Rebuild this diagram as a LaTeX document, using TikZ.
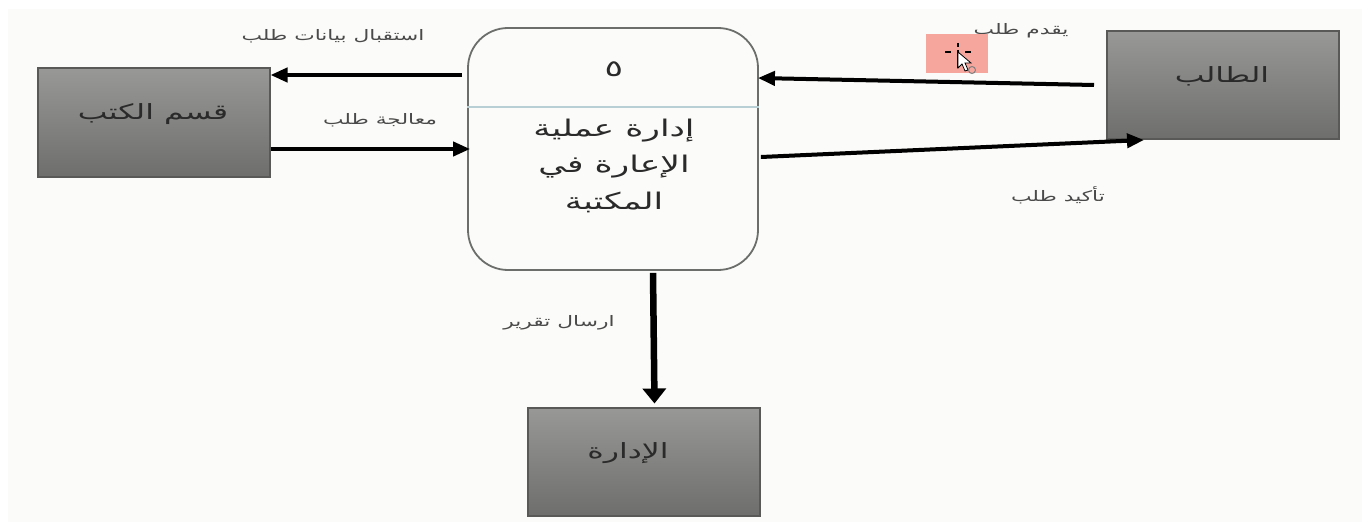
\documentclass[tikz,border=0pt]{standalone}
\usepackage{fontspec}
\setmainfont{Liberation Sans}
\newfontfamily\arabicfont[Script=Arabic,FakeStretch=1.5]{DejaVu Sans}
\TeXXeTstate=1
\usetikzlibrary{arrows.meta,calc}
\definecolor{paper}{HTML}{FBFCF9}
\definecolor{boxtop}{HTML}{989996}
\definecolor{boxbot}{HTML}{6E6F6C}
\definecolor{boxedge}{HTML}{595A57}
\definecolor{inkdark}{HTML}{2A2A2A}
\definecolor{inklight}{HTML}{4A4A4A}
\definecolor{divcol}{HTML}{B9CFD6}
\definecolor{procedge}{HTML}{6B6E6B}
\definecolor{pinkbox}{HTML}{F7A69E}
\newcommand{\artxt}[1]{\arabicfont\beginR #1\endR}
\tikzset{
  entity/.style={rectangle,draw=boxedge,line width=2pt,top color=boxtop,bottom color=boxbot,minimum width=232pt,minimum height=108pt,inner sep=0pt},
  entitytext/.style={text=inkdark,font=\fontsize{21}{24}\selectfont,inner sep=0pt},
  proctext/.style={text=inkdark,font=\fontsize{23}{26}\selectfont,inner sep=0pt},
  flowlabel/.style={text=inklight,font=\fontsize{14.5}{17}\selectfont,inner sep=0pt},
  flow/.style={draw=black,line width=4pt,-{Triangle[length=17pt,width=14pt]},shorten >=0pt},
  flowthick/.style={flow,line width=6.5pt,-{Triangle[length=15pt,width=23pt]}}
}
\begin{document}
\begin{tikzpicture}[x=1pt,y=-1pt]
\useasboundingbox (0,0) rectangle (1368,527);
\fill[white] (0,0) rectangle (1368,527);
\fill[paper] (8,9) rectangle (1362,522);

\node[entity] (books) at (153.5,122.5) {};
\node[entity] (student) at (1223,85) {};
\node[entity] (admin) at (643.5,461.5) {};
\node[rectangle,draw=procedge,line width=1.8pt,fill=paper,rounded corners=40pt,minimum width=290pt,minimum height=242pt,inner sep=0pt] (proc) at (613,149) {};
\draw[divcol,line width=1.2pt] ([yshift=42pt]proc.west) -- ([yshift=42pt]proc.east);

\node[proctext] (pnum) at (614,69) {\artxt{٥}};
\node[proctext] (pl1) at (614,131) {\artxt{إدارة عملية}};
\node[proctext] (pl2) at (614,167) {\artxt{الإعارة في}};
\node[proctext] (pl3) at (614,202) {\artxt{المكتبة}};

\node[entitytext] (tbooks) at (153,114) {\artxt{قسم الكتب}};
\node[entitytext] (tstudent) at (1222,76) {\artxt{الطالب}};
\node[entitytext] (tadmin) at (628,453) {\artxt{الإدارة}};

\node[flowlabel] (l1) at (333,36) {\artxt{استقبال بيانات طلب}};
\node[flowlabel] (l2) at (380,120) {\artxt{معالجة طلب}};
\node[flowlabel] (l3) at (1021,31) {\artxt{يقدم طلب}};
\node[flowlabel] (l4) at (1058,195) {\artxt{تأكيد طلب}};
\node[flowlabel] (l5) at (559,323) {\artxt{ارسال تقرير}};

% cursor highlight
\fill[pinkbox] (926,34) rectangle (988,73);
\draw[black,line width=1.4pt] (958,43) -- (958,47) (945,52) -- (951,52) (965,52) -- (971,52);
\draw[black,line width=2.4pt] (958,50) -- (958,68);
\fill[white,draw=black,line width=.8pt] (958,52) -- (958,68) -- (962,64) -- (965,71) -- (968,70) -- (965,63) -- (971,63) -- cycle;
\draw[gray,line width=1pt] (972,70) circle (3.5);

\draw[flow] ([shift={(-5pt,74pt)}]proc.west) -- ([yshift=47.5pt]books.east);
\draw[flow] ([yshift=-26.5pt]books.east) -- ([xshift=3pt]proc.west);
\draw[flow] ([shift={(-12pt,0pt)}]student.west) -- ([shift={(-1pt,71pt)}]proc.east);
\draw[flow] ([shift={(2pt,-8pt)}]proc.east) -- ([shift={(38pt,-55pt)}]student.west);
\draw[flowthick] ([shift={(40pt,-2pt)}]proc.south) -- ([shift={(11pt,3pt)}]admin.north);
\end{tikzpicture}
\end{document}
